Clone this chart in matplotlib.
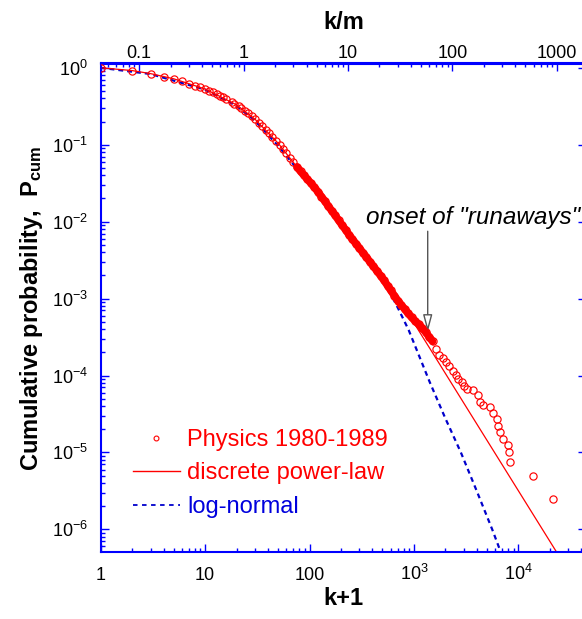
import matplotlib
matplotlib.use('Agg')
import matplotlib.pyplot as plt
import numpy as np
from matplotlib.lines import Line2D
from matplotlib.ticker import FixedLocator, FixedFormatter, LogLocator, NullFormatter

plt.rcParams['font.family'] = ['Liberation Sans', 'DejaVu Sans']
plt.rcParams['mathtext.fontset'] = 'custom'
plt.rcParams['mathtext.rm'] = 'Liberation Sans'
plt.rcParams['mathtext.it'] = 'Liberation Sans:italic'
plt.rcParams['mathtext.bf'] = 'Liberation Sans:bold'
plt.rcParams['axes.unicode_minus'] = False

# --- data ---
# Physics 1980-1989, low k (one circle per k)
small_k1 = [1, 2, 3, 4, 5, 6, 7, 8, 9, 10, 11]
small_p = [1.0, 0.91, 0.83, 0.77, 0.72, 0.665, 0.617, 0.586, 0.559, 0.531, 0.505]

# dense body of the distribution
band_k1 = [12, 13, 14, 15, 16, 18, 19, 21, 22, 24, 26, 28, 30, 33, 35, 38, 41, 44, 48, 52,
           56, 60, 65, 70, 76, 82, 88, 95, 103, 111, 120, 130, 140, 151, 163, 176, 190, 205,
           222, 240, 258, 280, 300, 325, 350, 380, 410, 440, 480, 515, 560, 600, 650, 700,
           760, 820, 880, 950, 1030, 1110, 1200, 1300, 1400, 1510]
band_p = [0.479, 0.454, 0.432, 0.412, 0.392, 0.358, 0.343, 0.315, 0.302, 0.278, 0.255, 0.234,
          0.216, 0.190, 0.175, 0.157, 0.141, 0.127, 0.112, 0.0986, 0.0871, 0.0776, 0.0676,
          0.0596, 0.0513, 0.0450, 0.0404, 0.0358, 0.0316, 0.0281, 0.0246, 0.0212, 0.0185,
          0.0160, 0.0139, 0.0121, 0.0104, 0.00904, 0.00780, 0.00671, 0.00589, 0.00512,
          0.00453, 0.00394, 0.00346, 0.00299, 0.00262, 0.00231, 0.00198, 0.00174, 0.00147,
          0.00128, 0.00109, 0.000944, 0.000820, 0.000723, 0.000643, 0.000570, 0.000510,
          0.000462, 0.000416, 0.000364, 0.000318, 0.000278]

# high-k tail ("runaways")
tail_k1 = [1630, 1750, 1885, 2028, 2183, 2355, 2530, 2667, 2871, 3020, 3206, 3700, 4140, 4300,
           4620, 5360, 5770, 6210, 6430, 6680, 7180, 8020, 8090, 8320, 13900, 21600]
tail_p = [2.2e-4, 1.85e-4, 1.67e-4, 1.49e-4, 1.32e-4, 1.16e-4, 1.02e-4, 9.0e-5, 8.2e-5, 7.3e-5,
          6.7e-5, 6.4e-5, 5.5e-5, 4.5e-5, 4.1e-5, 3.9e-5, 3.3e-5, 2.7e-5, 2.2e-5, 1.84e-5,
          1.5e-5, 1.26e-5, 1.0e-5, 7.5e-6, 5.0e-6, 2.5e-6]

# discrete power-law fit
pl_k1 = [1, 2, 3, 5, 10, 20, 30, 50, 100, 200, 300, 500, 1000, 1500, 3000, 10000, 30000]
pl_p = [1.0, 0.92, 0.84, 0.72, 0.53, 0.33, 0.215, 0.105, 0.032, 0.0095, 0.0045, 0.0018,
        4.83e-4, 2.0e-4, 4.4e-5, 3.19e-6, 2.91e-7]

# log-normal fit
ln_k1 = [1, 3, 10, 20, 30, 50, 100, 200, 300, 500, 590, 708, 891, 1122, 1413, 1995, 2818,
         3981, 5623, 7413]
ln_p = [1.0, 0.83, 0.52, 0.32, 0.205, 0.097, 0.031, 0.0093, 0.0045, 1.82e-3, 1.2e-3, 7.4e-4,
        3.9e-4, 1.8e-4, 8.3e-5, 2.8e-5, 1.0e-5, 3.2e-6, 1.0e-6, 3.7e-7]

# tick positions / labels
x_ticks = [1, 10, 100, 1000, 10000]
x_labels = ['1', '10', '100', r'$\mathdefault{10^3}$', r'$\mathdefault{10^4}$']
y_ticks = [1e-6, 1e-5, 1e-4, 1e-3, 1e-2, 1e-1, 1]
top_ticks = [0.1, 1, 10, 100, 1000]
top_labels = ['0.1', '1', '10', '100', '1000']

m_scale = 23.4  # k/m conversion of the top axis

blue = '#0000ff'
red = '#ff0000'

fig = plt.figure(figsize=(5.82, 6.19), dpi=100)
ax = fig.add_axes([100.7 / 582, (619 - 552.3) / 619, (586 - 100.7) / 582, (552.3 - 63.5) / 619])
ax.set_xscale('log')
ax.set_yscale('log')

# fits
ax.plot(ln_k1, ln_p, color='#0000cc', lw=1.6, ls=(0, (2.2, 1.8)), zorder=2)
ax.plot(pl_k1, pl_p, color=red, lw=0.9, zorder=2)

# data: dense body drawn as a solid band under the circles
bk = np.array(band_k1)
bp = np.array(band_p)
ax.plot(bk[bk >= 76], bp[bk >= 76], color=red, lw=5.5, solid_capstyle='round', zorder=3)
all_k1 = small_k1 + band_k1 + tail_k1
all_p = small_p + band_p + tail_p
ax.plot(all_k1, all_p, ls='none', marker='o', ms=5.2, mfc='none', mec=red, mew=0.85, zorder=4)

ax.set_xlim(1, 10 ** ((586 - 100.7) / 104.4))
ax.set_ylim(10 ** -6.298, 10 ** 0.0557)

# bottom / left axis ticks (only ticks inside the view)
ax.xaxis.set_major_locator(FixedLocator(x_ticks))
ax.xaxis.set_major_formatter(FixedFormatter(x_labels))
ax.xaxis.set_minor_locator(LogLocator(base=10, subs=np.arange(2, 10), numticks=20))
ax.xaxis.set_minor_formatter(NullFormatter())
ax.yaxis.set_major_locator(FixedLocator(y_ticks))
ax.yaxis.set_minor_locator(LogLocator(base=10, subs=np.arange(2, 10), numticks=20))
ax.yaxis.set_minor_formatter(NullFormatter())

ax.tick_params(which='both', direction='in', color=blue, width=1, top=False, right=True,
               labelsize=13)
ax.tick_params(which='major', length=6)
ax.tick_params(which='minor', length=3)
ax.tick_params(axis='x', which='major', pad=20)
ax.tick_params(axis='y', which='major', pad=9)
for lab in ax.get_xticklabels():
    lab.set_verticalalignment('baseline')

for sp in ax.spines.values():
    sp.set_color(blue)
    sp.set_linewidth(1.5)

# top axis k/m
secax = ax.secondary_xaxis('top', functions=(lambda x: x / m_scale, lambda x: x * m_scale))
secax.xaxis.set_major_locator(FixedLocator(top_ticks))
secax.xaxis.set_major_formatter(FixedFormatter(top_labels))
secax.xaxis.set_minor_locator(LogLocator(base=10, subs=np.arange(2, 10), numticks=20))
secax.xaxis.set_minor_formatter(NullFormatter())
secax.tick_params(which='both', direction='in', color=blue, width=1, labelsize=13, pad=0.8)
secax.tick_params(which='major', length=6)
secax.tick_params(which='minor', length=3)
secax.spines['top'].set_color(blue)
secax.spines['top'].set_linewidth(1.5)
secax.set_xlabel('k/m', fontsize=17, fontweight='bold', labelpad=12)

ax.set_xlabel('k+1', fontsize=17, fontweight='bold', labelpad=2)
ax.set_ylabel(r'Cumulative probability,  P$_\mathbf{cum}$', fontsize=17, fontweight='bold',
              labelpad=5)

# annotation
ax.annotate('', xy=(1356, 3.67e-4), xytext=(1356, 7.5e-3),
            arrowprops=dict(arrowstyle='-|>,head_length=0.75,head_width=0.2', fc='white',
                            ec='#555555', lw=1, shrinkA=0, shrinkB=0, mutation_scale=14))
ax.text(345, 0.0113, 'onset of "runaways"', style='italic', fontsize=17.5, ha='left', va='center')

# legend
handles = [
    Line2D([], [], ls='none', marker='o', ms=3.5, mfc='none', mec=red, mew=0.8),
    Line2D([], [], color=red, lw=1),
    Line2D([], [], color='#0000cc', lw=1.3, ls=(0, (2.5, 2.5))),
]
ax.legend(handles, ['Physics 1980-1989', 'discrete power-law', 'log-normal'],
          loc='upper left', bbox_to_anchor=(0.066, 0.252), frameon=False, fontsize=17,
          labelcolor=[red, red, '#0000dd'], handlelength=2.0, handletextpad=0.3,
          labelspacing=0.48, borderpad=0, borderaxespad=0)

fig.savefig('out.png', dpi=100)
